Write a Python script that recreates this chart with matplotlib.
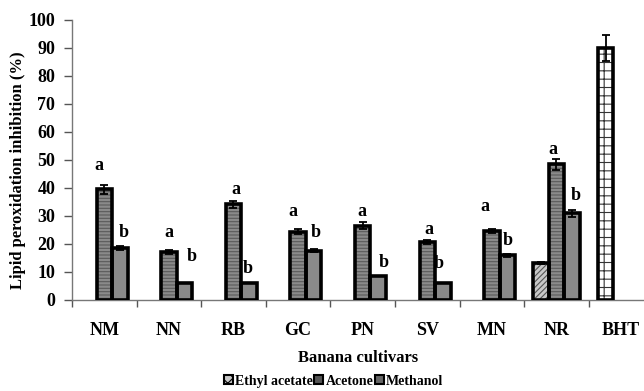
import numpy as np
import matplotlib
matplotlib.use("Agg")
import matplotlib.pyplot as plt
from matplotlib.patches import Patch

plt.rcParams['font.family'] = ['Liberation Serif', 'DejaVu Serif']
plt.rcParams['font.weight'] = 'bold'
plt.rcParams['hatch.linewidth'] = 0.8

# data
cultivars = ["NM", "NN", "RB", "GC", "PN", "SV", "MN", "NR", "BHT"]
ethyl = [0, 0, 0, 0, 0, 0, 0, 13.2]
ethyl_err = [0, 0, 0, 0, 0, 0, 0, 0.3]
acetone = [39.5, 17.2, 34.2, 24.4, 26.5, 20.8, 24.6, 48.5]
acetone_err = [1.5, 0.6, 1.3, 1.0, 1.2, 0.8, 0.8, 2.0]
methanol = [18.5, 6.0, 6.0, 17.6, 8.6, 6.2, 16.0, 31.0]
methanol_err = [0.7, 0, 0, 0.5, 0, 0, 0.5, 1.2]
bht = 90.0
bht_err = 4.5

# significance letters (height in %, x offset from cultivar centre)
a_y = [48.2, 24.0, 39.5, 31.5, 31.5, 25.2, 33.3, 53.6]
a_dx = [-0.08, 0.0, 0.04, -0.08, -0.02, 0.02, -0.11, -0.06]
b_y = [24.0, 15.7, 11.4, 24.0, 13.3, 13.1, 21.4, 37.5]
b_dx = [0.30, 0.35, 0.22, 0.27, 0.32, 0.18, 0.24, 0.30]

w = 0.24
x = np.arange(8)

fig = plt.figure(figsize=(6.44, 3.91), dpi=100)
ax = fig.add_axes([72/644, 1-300/391, 1-72/644, 280/391])

def draw(xs, vals, errs, face, hatch, hcol):
    ax.bar(xs, vals, w, color=face, hatch=hatch, edgecolor=hcol, linewidth=0, zorder=2)
    ax.bar(xs, vals, w, fill=False, edgecolor='black', linewidth=2.6, zorder=3)
    ax.errorbar(xs, vals, yerr=errs, fmt='none', ecolor='black', elinewidth=1.3,
                capsize=3, capthick=1.3, zorder=4)

nz = [i for i in range(8) if ethyl[i] > 0]
draw(x[nz] - w, [ethyl[i] for i in nz], [ethyl_err[i] for i in nz], '#c8c8c8', '//////', '#555555')
draw(x, acetone, acetone_err, '#8a8a8a', '-----', '#5a5a5a')
draw(x + w, methanol, methanol_err, '#8a8a8a', '', '#8a8a8a')
draw([8 - w], [bht], [bht_err], 'white', '++', '#333333')

for i in range(8):
    ax.text(i + a_dx[i], a_y[i], "a", ha='center', va='center', fontsize=13, fontweight='bold')
    ax.text(i + b_dx[i], b_y[i], "b", ha='center', va='center', fontsize=13, fontweight='bold')

ax.set_xlim(-0.5, 8.355)
ax.set_ylim(0, 100)
ax.set_yticks(np.arange(0, 101, 10))
ax.set_xticks(np.arange(9))
ax.set_xticklabels(cultivars)
ax.set_xticks(np.arange(-0.5, 8.5, 1), minor=True)
ax.tick_params(axis='x', which='major', length=0, pad=16, labelsize=13)
ax.tick_params(axis='x', which='minor', length=5, width=1, color='#555555')
ax.tick_params(axis='y', length=6, width=1, color='#555555', pad=6, labelsize=13)
for s in ['top', 'right']:
    ax.spines[s].set_visible(False)
for s in ['left', 'bottom']:
    ax.spines[s].set_color('#777777')
    ax.spines[s].set_linewidth(1)

ax.set_xlabel("Banana cultivars", fontsize=12, fontweight='bold', labelpad=8)
fig.text(0.028, 0.565, "Lipid peroxidation inhibition (%)", rotation=90,
         ha='center', va='center', fontsize=12, fontweight='bold')

handles = [Patch(facecolor='#c8c8c8', edgecolor='black', hatch='xxx', linewidth=1.5),
           Patch(facecolor='#555555', edgecolor='black', linewidth=1.5),
           Patch(facecolor='#666666', edgecolor='black', linewidth=1.5)]
fig.legend(handles, ["Ethyl acetate", "Acetone", "Methanol"], loc='center',
           bbox_to_anchor=(0.518, 0.025), ncol=3, frameon=False,
           handlelength=0.65, handleheight=0.65, handletextpad=0.15, columnspacing=0.1,
           prop={'weight': 'bold', 'size': 10})

fig.savefig("out.png", dpi=100)
